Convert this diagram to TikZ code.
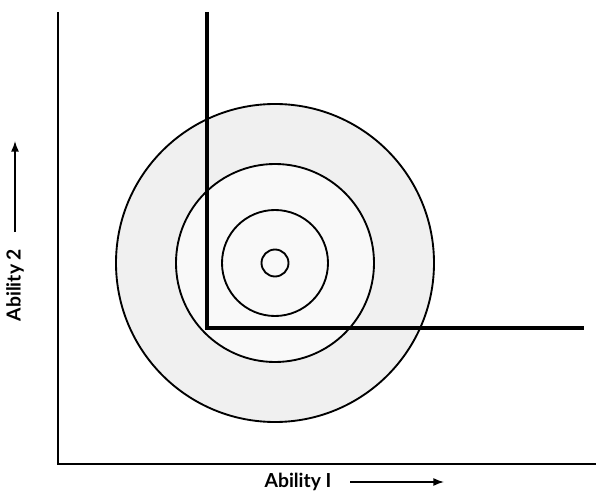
\documentclass[tikz,border=0pt]{standalone}
\usepackage{fontspec}
\setmainfont{Lato}
\usetikzlibrary{arrows.meta}
\begin{document}
\begin{tikzpicture}[x=0.75pt,y=-0.75pt,
  axis/.style={line width=1.1pt},
  bound/.style={line width=2.6pt},
  ring/.style={line width=1.4pt},
  lbl/.style={font=\bfseries\fontsize{14.5}{16}\selectfont, inner sep=0pt},
  dirarrow/.style={line width=1.1pt,-{Latex[length=8pt,width=6pt]}}]
\useasboundingbox (0,0) rectangle (596,499);
% shaded regions
\coordinate (c) at (275,263);
\fill[black!6] (c) circle[radius=159];
\fill[black!2.5] (c) circle[radius=99];
% axes
\coordinate (ytop) at (58,12);
\coordinate (o) at (58,464);
\coordinate (xend) at (596,464);
\draw[axis] (ytop) -- (o) -- (xend);
% circles
\draw[ring] (c) circle[radius=159];
\draw[ring] (c) circle[radius=99];
\draw[ring] (c) circle[radius=53];
\draw[ring] (c) circle[radius=13.5];
% thick L boundary
\coordinate (ltop) at (207,12);
\coordinate (lcorner) at (207,328);
\coordinate (lend) at (584,328);
\draw[bound] (ltop) -- (lcorner) -- (lend);
% labels
\node[lbl, rotate=90] (ylab) at (15,285) {Ability 2};
\coordinate (ya1) at (15,232);
\coordinate (ya2) at (15,141);
\draw[dirarrow] (ya1) -- (ya2);
\node[lbl] (xlab) at (298,482) {Ability I};
\coordinate (xa1) at (350,482);
\coordinate (xa2) at (444,482);
\draw[dirarrow] (xa1) -- (xa2);
\end{tikzpicture}
\end{document}
